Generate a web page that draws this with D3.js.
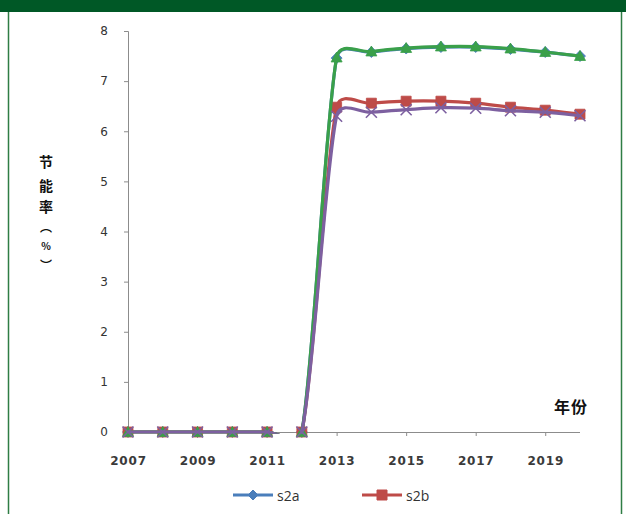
<!DOCTYPE html>
<html>
<head>
<meta charset="utf-8">
<script src="https://cdn.jsdelivr.net/npm/d3@7"></script>
<style>
  html, body { margin: 0; padding: 0; background: #fff; }
  svg { display: block; }
</style>
</head>
<body>
<script>
// Years on the category axis
const years = [2007, 2008, 2009, 2010, 2011, 2012, 2013, 2014, 2015, 2016, 2017, 2018, 2019, 2020];
const yearLabels = [2007, 2009, 2011, 2013, 2015, 2017, 2019];
const yTicks = [0, 1, 2, 3, 4, 5, 6, 7, 8];

// Energy-saving rate (%) per scenario
const s2a = [0, 0, 0, 0, 0, 0, 7.46, 7.58, 7.65, 7.68, 7.68, 7.64, 7.58, 7.50];
const s2b = [0, 0, 0, 0, 0, 0, 6.48, 6.56, 6.60, 6.60, 6.56, 6.48, 6.42, 6.34];
const s2c = [0, 0, 0, 0, 0, 0, 7.47, 7.59, 7.66, 7.69, 7.69, 7.65, 7.58, 7.50];
const s2d = [0, 0, 0, 0, 0, 0, 6.30, 6.38, 6.43, 6.47, 6.46, 6.41, 6.38, 6.31];

const seriesNames = ["s2a", "s2b", "s2c", "s2d"];
const seriesValues = [s2a, s2b, s2c, s2d];
const seriesColors = ["#4a7ebb", "#be4b48", "#3aa04a", "#7d60a0"];
const seriesMarkers = ["diamond", "square", "triangle", "cross"];
const legendNames = ["s2a", "s2b"];

const W = 626, H = 514;
const svg = d3.select("body").append("svg").attr("width", W).attr("height", H);

// Frame: dark green header band and thin side rules
svg.append("rect").attr("x", 0).attr("y", 0).attr("width", W).attr("height", 12).attr("fill", "#005826");
svg.append("line").attr("x1", 8.5).attr("x2", 8.5).attr("y1", 12).attr("y2", H).attr("stroke", "#2f7d44").attr("stroke-width", 1.5);
svg.append("line").attr("x1", 621.5).attr("x2", 621.5).attr("y1", 12).attr("y2", H).attr("stroke", "#2f7d44").attr("stroke-width", 1.5);

const x = d3.scalePoint().domain(years).range([128, 580]);
const y = d3.scaleLinear().domain([0, 8]).range([432, 31]);

// Lines are clipped to the plot area; markers are not
svg.append("defs").append("clipPath").attr("id", "plot-clip")
  .append("rect").attr("x", 100).attr("y", 20).attr("width", 500).attr("height", y(0) + 1.7 - 20);

const tickFont = "'DejaVu Sans', sans-serif";

// Y axis
const yAxis = svg.append("g").attr("transform", "translate(128,0)")
  .call(d3.axisLeft(y).tickValues(yTicks).tickSize(4).tickPadding(16).tickFormat(d3.format("d")));
yAxis.select(".domain").attr("stroke", "#8c8c8c").attr("d", "M-4,31.5H0.5V432");
yAxis.selectAll(".tick line").attr("stroke", "#8c8c8c");
yAxis.selectAll(".tick text").attr("font-family", tickFont).attr("font-size", 12).attr("fill", "#333");

// X axis
const xAxis = svg.append("g").attr("transform", "translate(0,432)")
  .call(d3.axisBottom(x).tickValues(yearLabels).tickSize(4).tickPadding(20).tickFormat(d3.format("d")));
xAxis.select(".domain").attr("stroke", "#8c8c8c").attr("d", "M128,0.5H580");
xAxis.selectAll(".tick line").attr("stroke", "#8c8c8c");
xAxis.selectAll(".tick text").attr("font-family", tickFont).attr("font-size", 12)
  .attr("font-weight", "bold").attr("fill", "#3a3a3a").attr("letter-spacing", 0.8);

// Y axis title, stacked one glyph per row
const yTitle = ["节", "能", "率", "︵", "%", "︶"];
const yTitlePos = [161, 185, 206, 226, 245, 264];
const yTitleSize = [14, 14, 14, 12, 10, 12];
svg.append("text")
  .attr("text-anchor", "middle").attr("dominant-baseline", "central")
  .attr("font-family", "'Noto Sans CJK SC', sans-serif")
  .attr("font-weight", "bold").attr("fill", "#111")
  .selectAll("tspan").data(yTitle).join("tspan")
  .attr("x", 46).attr("y", (d, i) => yTitlePos[i])
  .attr("font-size", (d, i) => yTitleSize[i])
  .text(d => d);

svg.append("text").attr("x", 571).attr("y", 406).attr("text-anchor", "middle")
  .attr("dominant-baseline", "central")
  .attr("font-family", "'Noto Sans CJK SC', sans-serif").attr("font-weight", "bold")
  .attr("font-size", 16).attr("fill", "#111").attr("letter-spacing", 1).text("年份");

// Marker shapes
function markerPath(kind, s) {
  if (kind === "diamond") return `M0,${-s}L${s},0L0,${s}L${-s},0Z`;
  if (kind === "square") return `M${-s},${-s}H${s}V${s}H${-s}Z`;
  if (kind === "triangle") return `M0,${-s}L${s},${s * 0.8}H${-s}Z`;
  return `M${-s},${-s}L${s},${s}M${s},${-s}L${-s},${s}`;
}

// Spreadsheet-style smoothed line: cubic Bezier segments whose control
// arms are 1/6 of the neighbour chord, capped at half the segment length.
function smoothPath(pts) {
  const p = d3.path();
  const n = pts.length;
  const dist = (a, b) => Math.hypot(b[0] - a[0], b[1] - a[1]);
  p.moveTo(pts[0][0], pts[0][1]);
  for (let i = 0; i < n - 1; i++) {
    const p0 = pts[Math.max(i - 1, 0)], p1 = pts[i], p2 = pts[i + 1], p3 = pts[Math.min(i + 2, n - 1)];
    const d12 = dist(p1, p2), d02 = dist(p0, p2), d13 = dist(p1, p3);
    let f1 = 1 / 6, f2 = 1 / 6;
    if (d02 / 6 >= d12 / 2) f1 = d12 / (2 * d02);
    if (d13 / 6 >= d12 / 2) f2 = d12 / (2 * d13);
    const c1 = [p1[0] + (p2[0] - p0[0]) * f1, p1[1] + (p2[1] - p0[1]) * f1];
    const c2 = [p2[0] - (p3[0] - p1[0]) * f2, p2[1] - (p3[1] - p1[1]) * f2];
    p.bezierCurveTo(c1[0], c1[1], c2[0], c2[1], p2[0], p2[1]);
  }
  return p.toString();
}

seriesValues.forEach((vals, k) => {
  const g = svg.append("g").attr("class", "series-" + seriesNames[k]);
  const pts = vals.map((v, i) => [x(years[i]), y(v)]);
  g.append("path").attr("d", smoothPath(pts))
    .attr("clip-path", "url(#plot-clip)")
    .attr("fill", "none").attr("stroke", seriesColors[k]).attr("stroke-width", 3.2)
    .attr("stroke-linejoin", "round");
  g.selectAll("path.mk").data(vals).join("path").attr("class", "mk")
    .attr("transform", (d, i) => `translate(${x(years[i])},${y(d)})`)
    .attr("d", markerPath(seriesMarkers[k], seriesMarkers[k] === "square" ? 5 : 5.5))
    .attr("fill", seriesMarkers[k] === "cross" ? "none" : seriesColors[k])
    .attr("stroke", seriesColors[k])
    .attr("stroke-width", seriesMarkers[k] === "cross" ? 1.6 : 0.8);
});

// Legend
const legendX = [233, 362];
legendNames.forEach((name, k) => {
  const g = svg.append("g").attr("transform", `translate(${legendX[k]},495)`);
  g.append("line").attr("x1", 0).attr("x2", 40).attr("stroke", seriesColors[k]).attr("stroke-width", 3);
  g.append("path").attr("transform", "translate(20,0)")
    .attr("d", markerPath(seriesMarkers[k], 5))
    .attr("fill", seriesColors[k]).attr("stroke", seriesColors[k]);
  g.append("text").attr("x", 44).attr("y", 0).attr("dominant-baseline", "central")
    .attr("font-family", "'Open Sans', sans-serif").attr("font-size", 14).attr("fill", "#333")
    .text(name);
});
</script>
</body>
</html>
